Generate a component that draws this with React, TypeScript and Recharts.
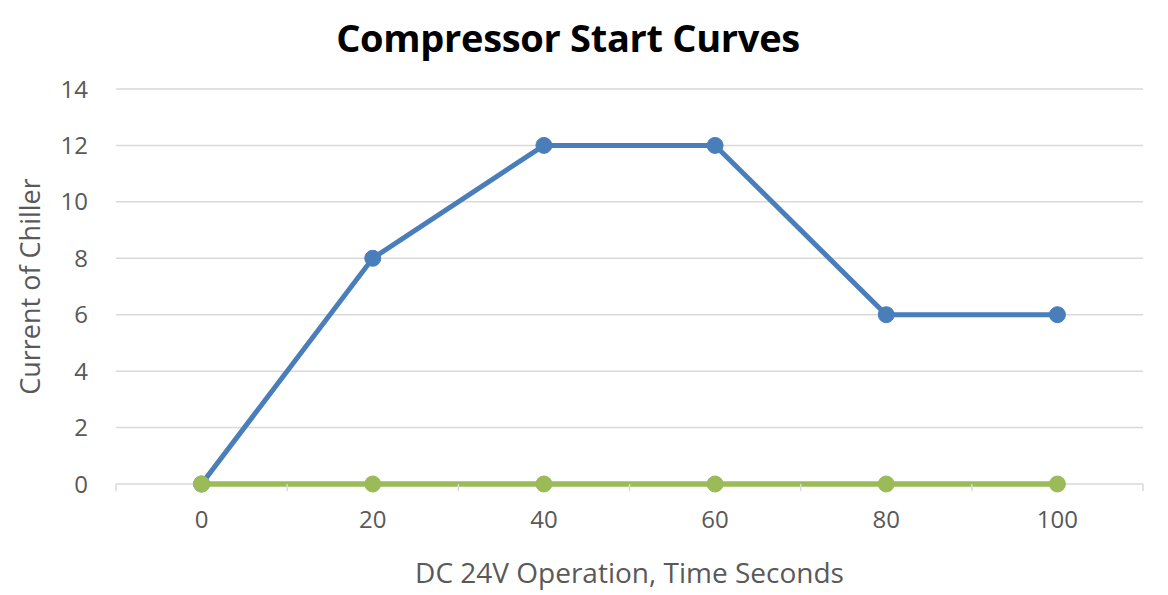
import { LineChart, Line, XAxis, YAxis, CartesianGrid } from "recharts"

const seconds = [0, 20, 40, 60, 80, 100]
const chillerCurrent = [0, 8, 12, 12, 6, 6]
const baseline = [0, 0, 0, 0, 0, 0]
const yTicks = [0, 2, 4, 6, 8, 10, 12, 14]

const data = seconds.map((t, i) => ({
  t,
  current: chillerCurrent[i],
  base: baseline[i],
}))

const CHART_W = 1152
const CHART_H = 586
const MARGIN = { top: 81, right: 17, bottom: 6, left: 0 }
const Y_AXIS_W = 108
const PLOT_W = CHART_W - MARGIN.left - MARGIN.right - Y_AXIS_W
const HALF_STEP = PLOT_W / 12

const FONT = "'Open Sans', sans-serif"
const TEXT = "#595959"
const GRID = "#d9d9d9"

const TICK_GAP = 28

function XTick(props: any) {
  const { x, y, payload, index } = props
  const axisY = y - TICK_GAP
  const isLast = index === seconds.length - 1
  return (
    <g>
      <line x1={x - HALF_STEP} x2={x - HALF_STEP} y1={axisY} y2={axisY + 7} stroke={GRID} strokeWidth={1.5} />
      {isLast && (
        <line x1={x + HALF_STEP} x2={x + HALF_STEP} y1={axisY} y2={axisY + 7} stroke={GRID} strokeWidth={1.5} />
      )}
      <text x={x} y={y} dy="0.68em" textAnchor="middle" fill={TEXT} fontSize={24} fontFamily={FONT}>
        {payload.value}
      </text>
    </g>
  )
}

export default function App() {
  return (
    <div style={{ position: "relative", width: CHART_W, height: CHART_H }}>
      <div
        style={{
          position: "absolute",
          left: 160,
          width: 800,
          top: 5,
          textAlign: "center",
          fontFamily: FONT,
          fontWeight: 700,
          fontSize: 38,
          color: "#000",
          lineHeight: "48px",
          letterSpacing: -0.3,
        }}
      >
        Compressor Start Curves
      </div>
      <LineChart width={CHART_W} height={CHART_H} data={data} margin={MARGIN}>
        <CartesianGrid horizontal vertical={false} stroke={GRID} strokeWidth={1.5} />
        <XAxis
          dataKey="t"
          type="number"
          domain={[-10, 110]}
          ticks={seconds}
          height={104}
          tickLine={false}
          tickSize={0}
          tickMargin={TICK_GAP}
          axisLine={false}
          tick={<XTick />}
          label={{
            content: (p: any) => {
              const vb = p.viewBox
              return (
                <text
                  x={vb.x + vb.width / 2}
                  y={vb.y + 92}
                  textAnchor="middle"
                  dominantBaseline="middle"
                  fill={TEXT}
                  fontSize={28}
                  fontFamily={FONT}
                >
                  DC 24V Operation, Time Seconds
                </text>
              )
            },
          }}
        />
        <YAxis
          domain={[0, 14]}
          ticks={yTicks}
          width={Y_AXIS_W}
          axisLine={false}
          tickLine={false}
          tickSize={6}
          tickMargin={22}
          tick={{ fill: TEXT, fontSize: 24, fontFamily: FONT }}
          label={{
            content: (p: any) => {
              const vb = p.viewBox
              const cx = vb.x + 25
              const cy = vb.y + vb.height / 2
              return (
                <text
                  x={cx}
                  y={cy}
                  transform={`rotate(-90, ${cx}, ${cy})`}
                  textAnchor="middle"
                  dominantBaseline="middle"
                  fill={TEXT}
                  fontSize={27}
                  fontFamily={FONT}
                >
                  Current of Chiller
                </text>
              )
            },
          }}
        />
        <Line
          dataKey="current"
          stroke="#4a7ebb"
          strokeWidth={5}
          dot={{ r: 8, fill: "#4a7ebb", stroke: "#4a7ebb", strokeWidth: 1 }}
          activeDot={false}
          isAnimationActive={false}
        />
        <Line
          dataKey="base"
          stroke="#9bbb59"
          strokeWidth={5.5}
          dot={{ r: 8, fill: "#9bbb59", stroke: "#9bbb59", strokeWidth: 1 }}
          activeDot={false}
          isAnimationActive={false}
        />
      </LineChart>
    </div>
  )
}
